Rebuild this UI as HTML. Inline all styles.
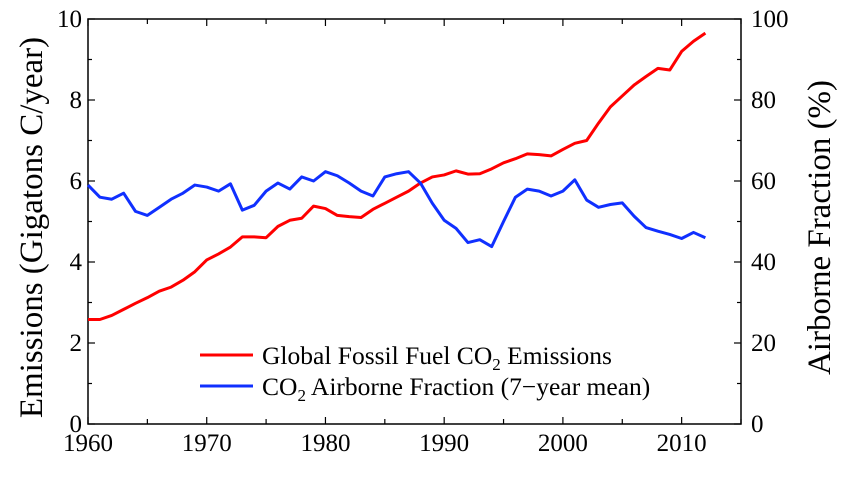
<!DOCTYPE html>
<html><head><meta charset="utf-8"><style>
body{margin:0;background:#fff;}
svg{display:block;font-family:"Liberation Serif",serif;}
</style></head><body>
<svg id="chart" width="853" height="480"></svg>
<script>
const years=[];for(let y=1960;y<=2012;y++)years.push(y);
const emissions=[2.58,2.58,2.68,2.83,2.98,3.12,3.28,3.38,3.55,3.76,4.05,4.2,4.37,4.62,4.62,4.6,4.88,5.03,5.08,5.38,5.32,5.15,5.12,5.1,5.3,5.45,5.6,5.75,5.95,6.1,6.15,6.25,6.17,6.18,6.3,6.45,6.55,6.67,6.65,6.62,6.78,6.93,7.0,7.43,7.83,8.1,8.37,8.58,8.78,8.74,9.2,9.45,9.65];
const airborne=[59,56,55.5,57,52.5,51.5,53.5,55.5,57,59,58.5,57.5,59.3,52.8,54,57.5,59.5,58,61,60,62.3,61.3,59.5,57.5,56.3,61,61.8,62.3,59.5,54.5,50.3,48.3,44.8,45.5,43.8,50,56,58,57.5,56.3,57.5,60.3,55.3,53.5,54.2,54.6,51.3,48.5,47.6,46.8,45.8,47.3,46];
const xTicks=[1960,1970,1980,1990,2000,2010];
const yLeftTicks=[0,2,4,6,8,10];
const yRightTicks=[0,20,40,60,80,100];
const L=88,R=741,T=19,B=424;
const x=v=>L+(v-1960)/(2015-1960)*(R-L);
const yl=v=>B-v/10*(B-T);
const yr=v=>B-v/100*(B-T);
const svg=document.getElementById('chart');const NS='http://www.w3.org/2000/svg';
function mk(tag,at,txt){const e=document.createElementNS(NS,tag);for(const k in at)e.setAttribute(k,at[k]);if(txt!==undefined)e.textContent=txt;svg.appendChild(e);return e;}
let e;
e=mk('rect',{x:L,y:T,width:R-L,height:B-T,fill:'none',stroke:'#000','stroke-width':1.5});

for(let yv=1960;yv<=2015;yv+=5){const big=yv%10==0;
e=mk('line',{x1:x(yv),x2:x(yv),y1:B,y2:B-(big?7:5),stroke:'#000','stroke-width':1.2});

e=mk('line',{x1:x(yv),x2:x(yv),y1:T,y2:T+(big?7:5),stroke:'#000','stroke-width':1.2});
}
xTicks.forEach(v=>{e=mk('text',{x:x(v),y:B+27,'font-size':25,'text-anchor':'middle'},v);
});
for(let v=0;v<=10;v++){const big=v%2==0;
e=mk('line',{x1:L,x2:L+(big?7:4),y1:yl(v),y2:yl(v),stroke:'#000','stroke-width':1.2});

e=mk('line',{x1:R,x2:R-(big?7:4),y1:yl(v),y2:yl(v),stroke:'#000','stroke-width':1.2});
}
yLeftTicks.forEach(v=>{e=mk('text',{x:L-6,y:yl(v)+8,'font-size':25,'text-anchor':'end'},v);
});
yRightTicks.forEach(v=>{e=mk('text',{x:R+10,y:yr(v)+8,'font-size':25,'text-anchor':'start'},v);
});
e=mk('text',{x:0,y:0,'font-size':33,'text-anchor':'middle',transform:`translate(42,${(T+B)/2+6}) rotate(-90)`},'Emissions (Gigatons C/year)');

e=mk('text',{x:0,y:0,'font-size':33,'text-anchor':'middle',transform:`translate(830,${(T+B)/2+6}) rotate(-90)`},'Airborne Fraction (%)');

e=mk('polyline',{points:years.map((yv,i)=>x(yv)+','+yl(emissions[i])).join(' '),fill:'none',stroke:'#ff0000','stroke-width':3,'stroke-linejoin':'round'});

e=mk('polyline',{points:years.map((yv,i)=>x(yv)+','+yr(airborne[i])).join(' '),fill:'none',stroke:'#1030ff','stroke-width':3,'stroke-linejoin':'round'});

e=mk('line',{x1:200,x2:253,y1:355,y2:355,stroke:'#ff0000','stroke-width':3});

e=mk('line',{x1:200,x2:253,y1:386,y2:386,stroke:'#1030ff','stroke-width':3});

e=mk('text',{x:262,y:364,'font-size':25.5});
e.innerHTML='Global Fossil Fuel CO<tspan font-size="17" dy="6">2</tspan><tspan dy="-6"> Emissions</tspan>';

e=mk('text',{x:262,y:395,'font-size':25.5});
e.innerHTML='CO<tspan font-size="17" dy="6">2</tspan><tspan dy="-6"> Airborne Fraction (7\u2212year mean)</tspan>';

</script>
</body></html>
